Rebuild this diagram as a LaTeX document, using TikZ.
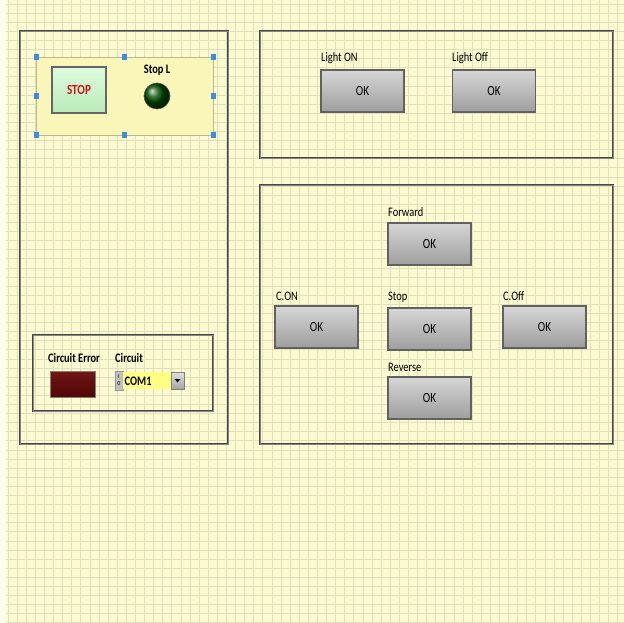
\documentclass[tikz,border=0pt]{standalone}
\usepackage{fontspec}
\usepackage{graphicx}
\setmainfont{Carlito}
\usetikzlibrary{shapes.geometric,calc}
\definecolor{bg}{RGB}{252,250,208}
\definecolor{gridc}{RGB}{226,223,186}
\definecolor{clus}{RGB}{250,246,186}
\definecolor{handle}{RGB}{60,140,225}
\definecolor{comboy}{RGB}{255,255,130}
\newcommand\sq[1]{\scalebox{0.8}[1]{#1}}
\tikzset{
  panel/.style={draw=black!72, double=black!48, double distance=0.6pt, line width=1.1pt, inner sep=0pt},
  okbtn/.style={draw=black!62, line width=1.5pt, top color=black!16, bottom color=black!38, minimum width=83pt, minimum height=42pt, inner sep=0pt, font=\fontsize{14}{16}\selectfont},
  lbl/.style={anchor=west, inner sep=0pt, font=\fontsize{13}{15}\selectfont},
  blbl/.style={inner sep=0pt, font=\fontsize{13}{15}\selectfont\bfseries},
  hdl/.style={fill=handle, draw=none, minimum width=5pt, minimum height=6pt, inner sep=0pt},
}
\begin{document}
\begin{tikzpicture}[x=1pt,y=-1pt]
\useasboundingbox (0,0) rectangle (624,623);
% background and grid
\fill[bg] (0,0) rectangle (624,623);
\fill[white!60!bg] (0,0) rectangle (6,623);
\foreach \i in {0,...,68} {\draw[gridc, line width=0.7pt] ({8+9.1*\i},0) -- ({8+9.1*\i},623);}
\foreach \i in {0,...,68} {\draw[gridc, line width=0.7pt] (6,{4+9.1*\i}) -- (624,{4+9.1*\i});}

% left outer panel
\node[panel, minimum width=208pt, minimum height=413pt] (leftpanel) at (124,237.5) {};
% cluster
\node[fill=clus, draw=clus!75!black, line width=0.6pt, minimum width=177pt, minimum height=78pt, inner sep=0pt] (cluster) at (124.5,96) {};
\foreach \hx/\hy/\nm in {36/57/h1,124/57/h2,213/57/h3,36/96/h4,213/96/h5,36/135/h6,124/135/h7,213/135/h8}
  {\node[hdl] (\nm) at (\hx,\hy) {};}
\node[draw=black!60, line width=1.5pt, top color={rgb,255:red,222;green,252;blue,222}, bottom color={rgb,255:red,185;green,235;blue,185}, minimum width=54pt, minimum height=46pt, inner sep=0pt, font=\fontsize{14}{16}\selectfont\bfseries, text={rgb,255:red,205;green,20;blue,20}] (stop) at (79,90) {\sq{STOP}};
\node[blbl] (stopl) at (157,70) {\sq{Stop L}};
\node[circle, ball color=green!30!black, draw=black!70, line width=0.6pt, minimum size=26pt, inner sep=0pt] (led) at (157,96) {};

% inner bottom-left panel
\node[panel, minimum width=180pt, minimum height=76pt] (errpanel) at (123,373) {};
\node[blbl, anchor=west] (cerrl) at (48,358) {\sq{Circuit Error}};
\node[draw=black!50, line width=0.5pt, top color={rgb,255:red,115;green,22;blue,22}, bottom color={rgb,255:red,80;green,6;blue,6}, minimum width=45pt, minimum height=26pt, inner sep=0pt] (cerr) at (72.5,384) {};
\node[blbl, anchor=west] (circl) at (115,358) {\sq{Circuit}};
\node[fill=black!25, draw=black!40, line width=0.4pt, minimum width=8pt, minimum height=19pt, inner sep=0pt, align=center, font=\fontsize{6}{7}\selectfont] (io) at (119,380.5) {I\\0};
\node[fill=comboy, draw=none, minimum width=48pt, minimum height=17pt, inner sep=0pt] (combo) at (147,380.5) {};
\node[anchor=west, inner sep=0pt, font=\fontsize{13}{15}\selectfont\bfseries] (comtext) at (124.5,381) {\sq{COM1}};
\node[top color=black!12, bottom color=black!35, draw=black!50, line width=0.5pt, minimum width=13pt, minimum height=17pt, inner sep=0pt] (drop) at (177.5,380.5) {};
\fill[black] ($(drop.center)+(-3,-1.5)$) -- ($(drop.center)+(3,-1.5)$) -- ($(drop.center)+(0,2)$) -- cycle;

% top-right panel
\node[panel, minimum width=353pt, minimum height=127pt] (lightpanel) at (436.5,94.5) {};
\node[lbl] (lonl) at (321,58) {\sq{Light ON}};
\node[okbtn] (lon) at (362.5,91) {\sq{OK}};
\node[lbl] (loffl) at (452,58) {\sq{Light Off}};
\node[okbtn] (loff) at (494,91) {\sq{OK}};

% bottom-right panel
\node[panel, minimum width=353pt, minimum height=259pt] (motorpanel) at (436.5,314.5) {};
\node[lbl] (fwdl) at (388,212) {\sq{Forward}};
\node[okbtn] (fwd) at (429.5,244) {\sq{OK}};
\node[lbl] (conl) at (276,296) {\sq{C.ON}};
\node[okbtn] (con) at (316.5,327) {\sq{OK}};
\node[lbl] (stpl) at (388,297) {\sq{Stop}};
\node[okbtn] (stp) at (429.5,329) {\sq{OK}};
\node[lbl] (coffl) at (503,296) {\sq{C.Off}};
\node[okbtn] (coff) at (544.5,327) {\sq{OK}};
\node[lbl] (revl) at (388,367) {\sq{Reverse}};
\node[okbtn] (rev) at (429.5,398) {\sq{OK}};
\end{tikzpicture}
\end{document}
